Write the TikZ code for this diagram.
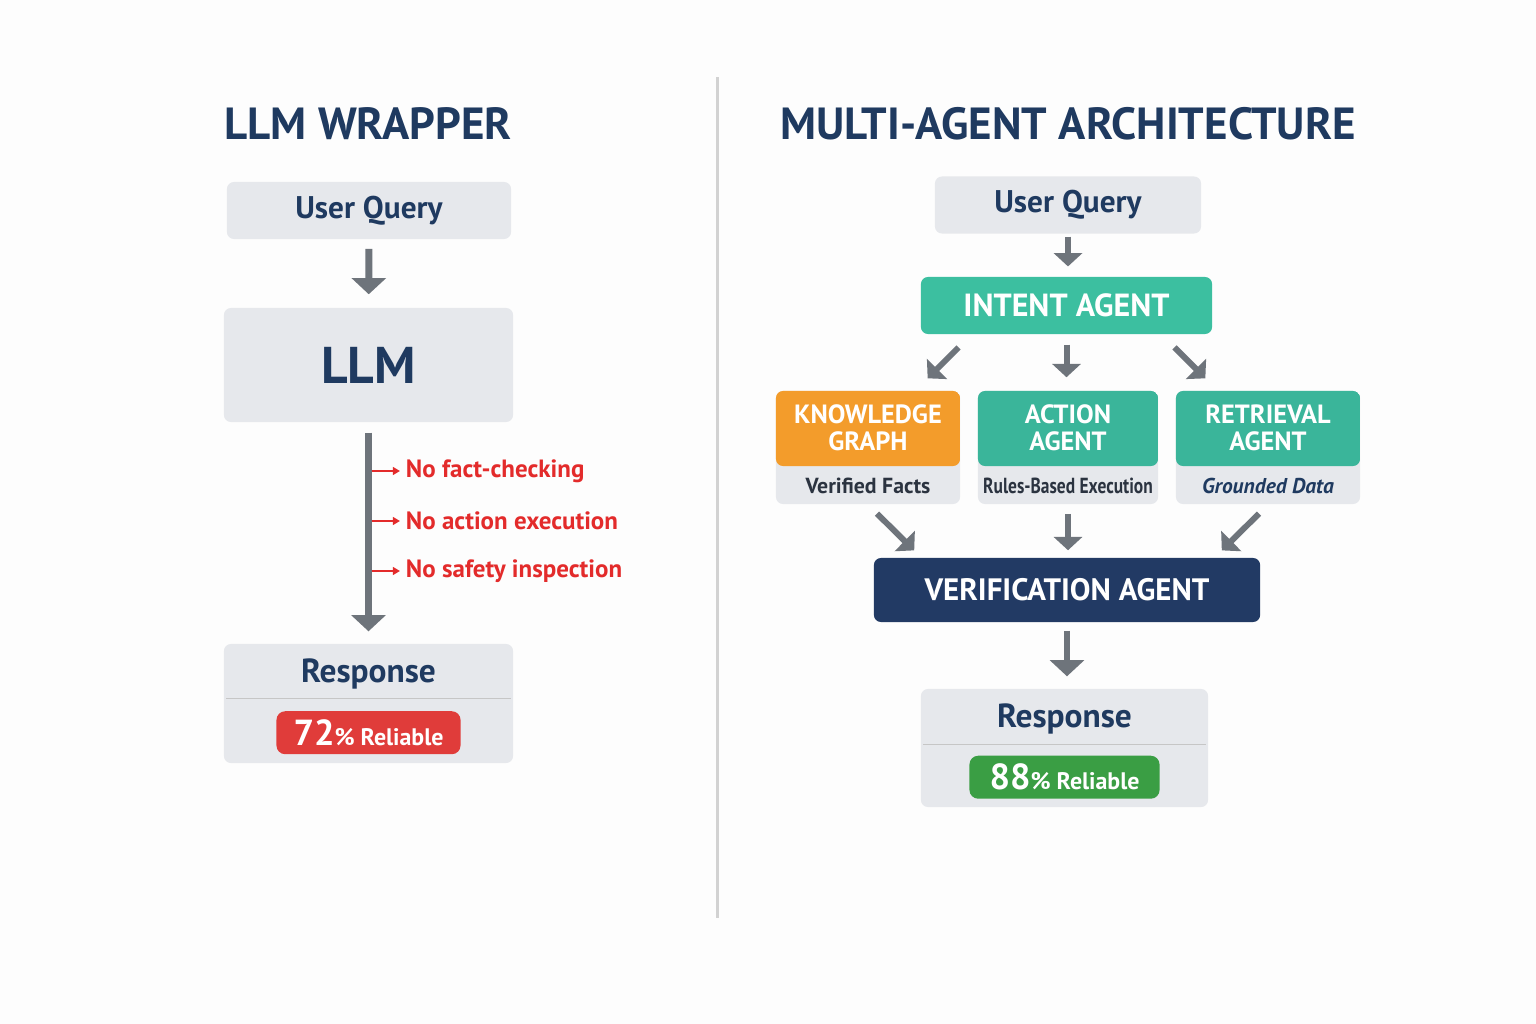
\documentclass[tikz,border=0pt]{standalone}
\usepackage{fontspec}
\setmainfont{PT Sans}
\newfontfamily\narrowfont{PT Sans}[FakeStretch=0.8]
\usetikzlibrary{arrows.meta, positioning, calc}

\definecolor{navytxt}{HTML}{1F3A60}
\definecolor{boxgray}{HTML}{E6E8EC}
\definecolor{arrowgray}{HTML}{6E747B}
\definecolor{tealA}{HTML}{3CBFA0}
\definecolor{tealB}{HTML}{3AB59A}
\definecolor{kgorange}{HTML}{F39C2B}
\definecolor{navybox}{HTML}{223A64}
\definecolor{warnred}{HTML}{E32B2B}
\definecolor{badred}{HTML}{E03C3A}
\definecolor{badgreen}{HTML}{3A9E44}
\definecolor{subdark}{HTML}{2B3340}
\definecolor{bgwhite}{HTML}{FDFDFD}

\begin{document}
\begin{tikzpicture}[x=0.01cm, y=-0.01cm,
    every node/.style={font=\bfseries, text=navytxt},
    headline/.style={font=\bfseries\fontsize{12.8}{15}\selectfont},
    graybox/.style={fill=boxgray, rounded corners=2pt, minimum height=0.57cm},
    agentbox/.style={fill=#1, rounded corners=2pt, text=white},
    card/.style={fill=boxgray, rounded corners=2pt, minimum width=1.84cm, minimum height=1.13cm,
        path picture={\fill[#1] (path picture bounding box.north west) rectangle ([yshift=0.38cm]path picture bounding box.south east);}},
    cardhead/.style={text=white, align=center, font=\bfseries\fontsize{7.5}{7.7}\selectfont},
    cardsub/.style={text=subdark, font=\bfseries\fontsize{6.2}{7}\selectfont},
    badge/.style={fill=#1, rounded corners=2.5pt, text=white, minimum width=1.84cm, minimum height=0.43cm, inner sep=0pt},
    bigarrow/.style={draw=arrowgray, line width=2pt, -{Triangle[length=4.6pt, width=9.6pt]}},
    flowarrow/.style={draw=arrowgray, line width=1.7pt, -{Triangle[length=3.8pt, width=8pt]}},
    redarrow/.style={draw=warnred, line width=0.6pt, -{Triangle[length=2pt, width=2.2pt]}},
    sepline/.style={draw=gray!45, line width=0.4pt}]

    % Page
    \useasboundingbox (0,0) rectangle (1536,1024);
    \fill[bgwhite] (0,0) rectangle (1536,1024);

    % Divider between the two panels
    \draw[gray!35, line width=0.85pt] (717,77) -- (717,918);

    %%% Left panel: LLM wrapper
    \node[headline] (title1) at (368,124) {LLM WRAPPER};
    \node[graybox, minimum width=2.84cm, font=\bfseries\fontsize{8.9}{11}\selectfont] (uq1) at (369,210.5) {User Query};
    \node[graybox, minimum width=2.89cm, minimum height=1.14cm, font=\bfseries\fontsize{14.7}{17}\selectfont] (llm) at (368.5,365) {LLM};
    \draw[bigarrow, shorten <=2.6pt, shorten >=3.7pt] (uq1) -- (llm);

    % Response with reliability badge
    \node[graybox, minimum width=2.89cm, minimum height=1.19cm] (resp1) at (368.5,703.5) {};
    \node[font=\bfseries\fontsize{9.5}{11}\selectfont] (resp1lbl) at ([yshift=-0.31cm]resp1.north) {Response};
    \draw[sepline] ([xshift=0.03cm, yshift=-0.55cm]resp1.north west) -- ([xshift=-0.03cm, yshift=-0.55cm]resp1.north east);
    \node[badge=badred, minimum width=1.84cm] (rel1) at ([yshift=0.31cm]resp1.south)
        {{\fontsize{10.3}{12}\selectfont 72}{\fontsize{6.8}{8}\selectfont\% Reliable}};

    % Straight path with nothing in between
    \draw[bigarrow, shorten <=2.8pt, shorten >=3.4pt] (llm) -- (resp1);
    \foreach \y/\txt [count=\i] in {471/No fact-checking, 521/No action execution, 571/No safety inspection} {
        \node[anchor=west, inner sep=1.5pt, text=warnred, font=\bfseries\fontsize{7.1}{9}\selectfont] (nf\i) at (400,\y) {\txt};
        \draw[redarrow, shorten <=0.9pt] (llm.south |- nf\i.west) -- (nf\i.west);
    }

    %%% Right panel: multi-agent architecture
    \node[headline] (title2) at (1068,124) {MULTI-AGENT ARCHITECTURE};
    \node[graybox, minimum width=2.66cm, font=\bfseries\fontsize{8.9}{11}\selectfont] (uq2) at (1068,205) {User Query};
    \node[agentbox=tealA, minimum width=2.91cm, minimum height=0.57cm, font=\bfseries\fontsize{9.1}{11}\selectfont] (intent) at (1066.5,305.5) {INTENT AGENT};
    \draw[flowarrow, shorten <=0.7pt, shorten >=2.8pt] (uq2.south) -- (uq2.south |- intent.north);

    % Specialist agents
    \node[card=kgorange] (kg) at (868,447.5) {};
    \node[card=tealB, minimum width=1.80cm] (act) at (1068,447.5) {};
    \node[card=tealB] (ret) at (1268,447.5) {};
    \node[cardhead] at ([yshift=-0.375cm]kg.north) {KNOWLEDGE\\GRAPH};
    \node[cardhead] at ([yshift=-0.375cm]act.north) {ACTION\\AGENT};
    \node[cardhead] at ([yshift=-0.375cm]ret.north) {RETRIEVAL\\AGENT};
    \node[cardsub] at ([yshift=0.19cm]kg.south) {Verified Facts};
    \node[cardsub, font=\narrowfont\bfseries\fontsize{6.2}{7}\selectfont] at ([yshift=0.19cm]act.south) {Rules-Based Execution};
    \node[cardsub, text=navytxt, font=\bfseries\itshape\fontsize{6.1}{7}\selectfont] at ([yshift=0.19cm]ret.south) {Grounded Data};

    \draw[flowarrow, shorten <=5.1pt, shorten >=4.8pt] ([xshift=0.51cm]intent.south west) -- ([xshift=-0.45cm]kg.north east);
    \draw[flowarrow, shorten <=2.8pt, shorten >=3.7pt] (intent.south) -- (intent.south |- act.north);
    \draw[flowarrow, shorten <=5.1pt, shorten >=4.8pt] ([xshift=-0.51cm]intent.south east) -- ([xshift=0.42cm]ret.north west);

    % Verification
    \node[agentbox=navybox, minimum width=3.86cm, minimum height=0.64cm, font=\bfseries\fontsize{8.8}{11}\selectfont] (ver) at (1067,590) {VERIFICATION AGENT};
    \draw[flowarrow, shorten <=3.6pt, shorten >=2.8pt] (kg.south) -- ([xshift=0.48cm]ver.north west);
    \draw[flowarrow, shorten <=2.6pt, shorten >=2pt] (act.south) -- (act.south |- ver.north);
    \draw[flowarrow, shorten <=3.6pt, shorten >=2.8pt] (ret.south) -- ([xshift=-0.46cm]ver.north east);

    % Response with reliability badge
    \node[graybox, minimum width=2.87cm, minimum height=1.18cm] (resp2) at (1064.5,748) {};
    \node[font=\bfseries\fontsize{9.5}{11}\selectfont] (resp2lbl) at ([yshift=-0.31cm]resp2.north) {Response};
    \draw[sepline] ([xshift=0.03cm, yshift=-0.56cm]resp2.north west) -- ([xshift=-0.03cm, yshift=-0.56cm]resp2.north east);
    \node[badge=badgreen, minimum width=1.90cm] (rel2) at ([yshift=0.305cm]resp2.south)
        {{\fontsize{10.3}{12}\selectfont 88}{\fontsize{6.8}{8}\selectfont\% Reliable}};
    \draw[bigarrow, line width=1.7pt, shorten <=2.3pt, shorten >=3.4pt] (ver.south) -- (ver.south |- resp2.north);
\end{tikzpicture}
\end{document}
